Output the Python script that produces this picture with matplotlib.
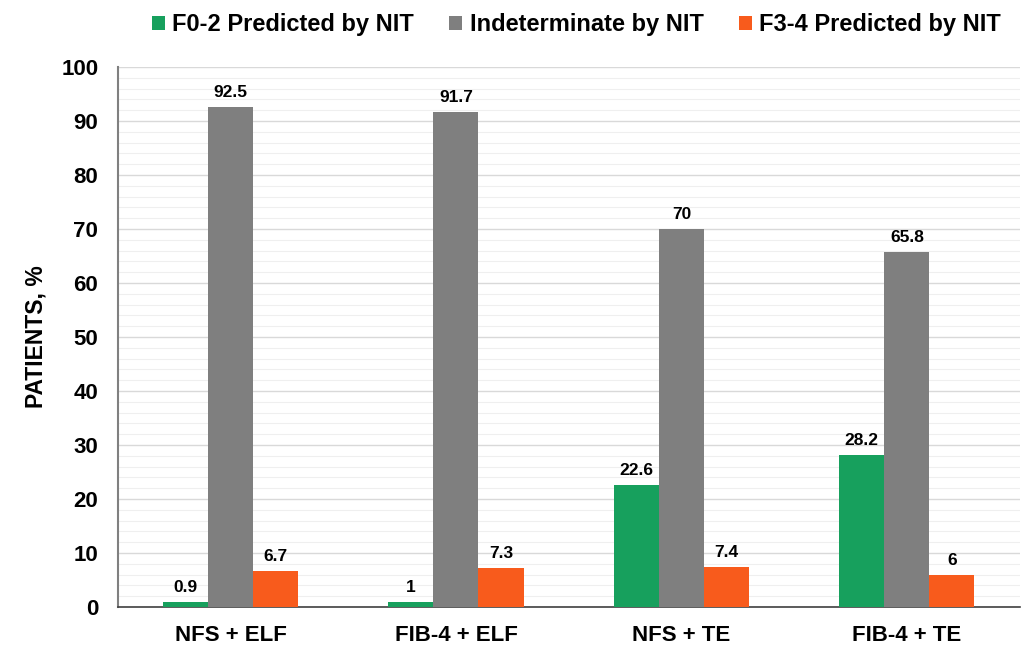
import numpy as np
import matplotlib
matplotlib.use('Agg')
import matplotlib.pyplot as plt
from matplotlib.ticker import MultipleLocator

plt.rcParams['font.family'] = ['Liberation Sans', 'DejaVu Sans']
plt.rcParams['font.weight'] = 'bold'

categories = ['NFS + ELF', 'FIB-4 + ELF', 'NFS + TE', 'FIB-4 + TE']
f02 = [0.9, 1, 22.6, 28.2]
indeterminate = [92.5, 91.7, 70, 65.8]
f34 = [6.7, 7.3, 7.4, 6]
series_names = ['F0-2 Predicted by NIT', 'Indeterminate by NIT', 'F3-4 Predicted by NIT']
colors = ['#17a05d', '#7f7f7f', '#f85b1c']

fig = plt.figure(figsize=(10.33, 6.5), dpi=100)
ax = fig.add_axes([0.114, 0.066, 0.873, 0.831])

x = np.arange(len(categories))
w = 0.2
for i, (vals, name, c) in enumerate(zip([f02, indeterminate, f34], series_names, colors)):
    bars = ax.bar(x + (i - 1) * w, vals, width=w, color=c, label=name, zorder=3)
    for b, v in zip(bars, vals):
        ax.text(b.get_x() + b.get_width() / 2, v + 1.3, f'{v:g}',
                ha='center', va='bottom', fontsize=12.5, fontweight='bold')

ax.set_xlim(-0.5, len(categories) - 0.5)
ax.set_ylim(0, 100)
ax.yaxis.set_major_locator(MultipleLocator(10))
ax.yaxis.set_minor_locator(MultipleLocator(2))
ax.grid(axis='y', which='major', color='#d9d9d9', linewidth=1, zorder=0)
ax.grid(axis='y', which='minor', color='#efefef', linewidth=0.8, zorder=0)
ax.set_xticks(x)
ax.set_xticklabels(categories, fontsize=16, fontweight='bold')
ax.tick_params(axis='y', labelsize=16, length=0, pad=14)
ax.tick_params(axis='x', length=0, pad=13)
ax.tick_params(which='minor', length=0)
for t in ax.get_yticklabels():
    t.set_fontweight('bold')
ax.set_ylabel('PATIENTS, %', fontsize=16.5, fontweight='bold', labelpad=10)

for s in ['top', 'right']:
    ax.spines[s].set_visible(False)
ax.spines['left'].set_color('#808080')
ax.spines['left'].set_linewidth(1.5)
ax.spines['bottom'].set_color('#404040')
ax.spines['bottom'].set_linewidth(1.2)

fig.legend(loc='upper center', bbox_to_anchor=(0.558, 1.012), ncol=3, frameon=False,
           prop={'size': 17, 'weight': 'bold'}, handlelength=0.55, handleheight=0.55,
           handletextpad=0.3, columnspacing=1.5)

fig.savefig('out.png', dpi=100, facecolor='white')
